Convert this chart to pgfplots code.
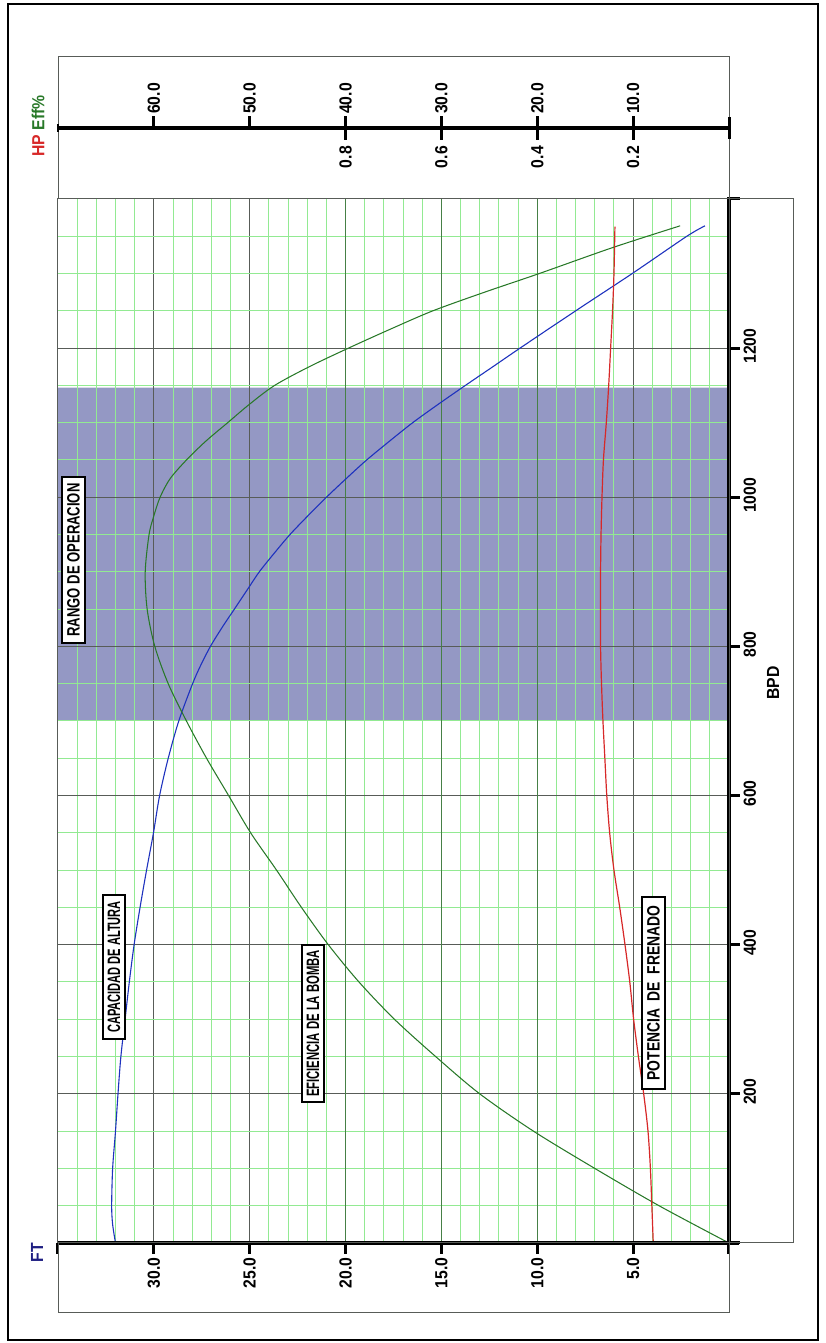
\documentclass[border=0pt]{standalone}
\usepackage{pgfplots}
\usepackage{pgfplotstable}
\pgfplotsset{compat=1.18}
\usepackage{fontspec}
\setmainfont{Liberation Sans}
\newfontfamily\tickfont{Liberation Sans}[FakeStretch=0.9]
\definecolor{gridmaj}{RGB}{88,92,88}
\definecolor{gridgrn}{RGB}{70,128,70}
\definecolor{gridmin}{RGB}{146,234,146}
\definecolor{shadec}{RGB}{148,152,196}
\definecolor{cblue}{RGB}{30,50,190}
\definecolor{cgreen}{RGB}{40,120,40}
\definecolor{cred}{RGB}{215,40,40}
\definecolor{navy}{RGB}{30,30,130}

\pgfplotstableread{
bpd ft
0 32.0
25 32.15
50 32.2
100 32.15
150 32.0
200 31.87
250 31.72
300 31.5
350 31.28
400 31.03
450 30.72
500 30.38
550 30.02
600 29.7
650 29.25
700 28.7
750 27.98
775 27.55
800 27.05
825 26.45
850 25.8
875 25.15
900 24.5
925 23.72
950 22.9
975 21.97
1000 21.0
1025 19.97
1050 18.9
1075 17.72
1100 16.5
1125 15.15
1150 13.75
1175 12.32
1200 10.9
1250 8.0
1300 5.05
1350 2.2
1364 1.25
}\headtab

\pgfplotstableread{
bpd eff
0 0
50 7.3
100 14.0
150 20.4
200 26.0
250 30.6
300 34.9
350 38.6
400 41.8
450 44.6
500 47.2
550 49.9
600 52.2
650 54.5
700 56.6
750 58.5
800 59.9
850 60.7
900 60.9
950 60.5
975 60.0
1000 59.35
1025 58.3
1050 56.6
1075 54.6
1100 52.3
1125 50.0
1150 47.4
1175 43.8
1200 39.7
1225 35.4
1250 30.9
1275 25.5
1300 19.8
1335 12.1
1364 5.1
}\efftab

\pgfplotstableread{
bpd hp
0 0.158
50 0.161
100 0.164
150 0.169
200 0.178
250 0.189
300 0.199
350 0.207
400 0.217
450 0.228
500 0.240
550 0.249
600 0.255
650 0.259
700 0.263
750 0.266
800 0.268
850 0.268
900 0.268
950 0.267
1000 0.265
1050 0.262
1100 0.256
1150 0.251
1200 0.247
1250 0.243
1300 0.240
1363 0.238
}\hptab

\newcommand{\tf}{\tickfont\bfseries\fontsize{17.5}{17.5}\selectfont}

\begin{document}
\begin{tikzpicture}[x=1pt,y=1pt]
\path[use as bounding box] (0,0) rectangle (825,1343);
\draw[line width=1.2pt] (8,3) rectangle (818,1339);

% shaded operating range
\begin{axis}[at={(58pt,100pt)}, anchor=south west, scale only axis,
  width=671pt, height=1044pt, xmin=0, xmax=35, ymin=0, ymax=1400,
  x dir=reverse, hide axis]
\addplot[fill=shadec, draw=none] coordinates {(0,700) (35,700) (35,1147) (0,1147) (0,700)};
\end{axis}

% main axis: FT vs BPD
\begin{axis}[at={(58pt,100pt)}, anchor=south west, scale only axis,
  width=671pt, height=1044pt, xmin=0, xmax=35, ymin=0, ymax=1400,
  x dir=reverse,
  axis line style={draw=gridmaj, line width=1pt},
  xtick={0,5,25,30,35}, xticklabels={,5.0,25.0,30.0,},
  extra x ticks={10,15,20}, extra x tick labels={10.0,15.0,20.0},
  extra x tick style={major grid style={draw=gridgrn, line width=1.1pt}},
  minor xtick={1,...,34},
  ytick={0,200,...,1400}, yticklabels={,200,400,600,800,1000,1200,},
  minor ytick={50,100,...,1350},
  grid=both,
  major grid style={draw=gridmaj, line width=1pt},
  minor grid style={draw=gridmin, line width=1pt},
  xtick pos=left, ytick pos=right,
  tick align=outside,
  major tick length=11pt, minor tick length=0pt,
  every tick/.style={black, line width=3pt},
  xticklabel style={font=\tf, rotate=90, anchor=east},
  yticklabel style={font=\tf, rotate=90, anchor=north, xshift=2pt},
]
\addplot[cblue, line width=1.1pt, smooth] table[x=ft, y=bpd] {\headtab};
\end{axis}

% efficiency
\begin{axis}[at={(58pt,100pt)}, anchor=south west, scale only axis,
  width=671pt, height=1044pt, xmin=0, xmax=70, ymin=0, ymax=1400,
  x dir=reverse, hide axis]
\addplot[cgreen, line width=1.05pt, smooth] table[x=eff, y=bpd] {\efftab};
\end{axis}

% brake horsepower
\begin{axis}[at={(58pt,100pt)}, anchor=south west, scale only axis,
  width=671pt, height=1044pt, xmin=0, xmax=1.4, ymin=0, ymax=1400,
  x dir=reverse, hide axis]
\addplot[cred, line width=1.2pt, smooth] table[x=hp, y=bpd] {\hptab};
\end{axis}

% thick axis lines
\draw[line width=4pt] (58,100) -- (739,100);
\draw[line width=4pt] (729,98) -- (729,1144);
\draw[line width=3pt] (727,1144) -- (738,1144);

% side boxes
\draw[line width=1pt, gridmaj] (58,100) rectangle (729,30);
\draw[line width=1pt, gridmaj] (729,100) rectangle (793,1144);
\draw[line width=1pt, gridmaj] (58,1144) rectangle (729,1286);

% top axis: Eff% (above) and HP (below)
\draw[line width=4pt] (58,1215) -- (729,1215);
\draw[line width=3pt] (729,1204) -- (729,1226);
\draw[line width=2pt] (58,1211) -- (58,1219);
\foreach \e in {10,20,30,40,50,60}{
  \pgfmathsetmacro{\xx}{729-9.5857*\e}
  \draw[line width=3pt] (\xx,1215) -- (\xx,1227);
  \node[rotate=90, anchor=west, font=\tf, inner sep=0pt] at (\xx,1229) {\e.0};
}
\foreach \h/\e in {0.2/10,0.4/20,0.6/30,0.8/40}{
  \pgfmathsetmacro{\xx}{729-9.5857*\e}
  \draw[line width=3pt] (\xx,1215) -- (\xx,1203);
  \node[rotate=90, anchor=east, font=\tf, inner sep=0pt] at (\xx,1197) {\h};
}

% axis names
\node[rotate=90, font=\tf] at (38,1217) {\textcolor{cred}{HP} \textcolor{cgreen}{Eff\%}};
\node[rotate=90, font=\tf, text=navy] at (37,90) {FT};
\node[rotate=90, font=\tf] at (773,660) {BPD};

% curve labels
\tikzset{lbl/.style={rotate=90, draw, line width=1.2pt, fill=white, inner sep=0pt}}
\node[lbl, minimum width=144pt, minimum height=22pt] at (114,376)
  {\resizebox{132pt}{12.5pt}{\bfseries CAPACIDAD DE ALTURA}};
\node[lbl, minimum width=157pt, minimum height=22pt] at (313,319.5)
  {\resizebox{147pt}{12.5pt}{\bfseries EFICIENCIA DE LA BOMBA}};
\node[lbl, minimum width=192pt, minimum height=23pt] at (653.5,350)
  {\resizebox{175pt}{12.5pt}{\bfseries POTENCIA\ \ DE\ \ FRENADO}};
\node[lbl, minimum width=166pt, minimum height=23pt] at (73.5,783)
  {\resizebox{153pt}{12.5pt}{\bfseries RANGO DE OPERACION}};
\end{tikzpicture}
\end{document}
